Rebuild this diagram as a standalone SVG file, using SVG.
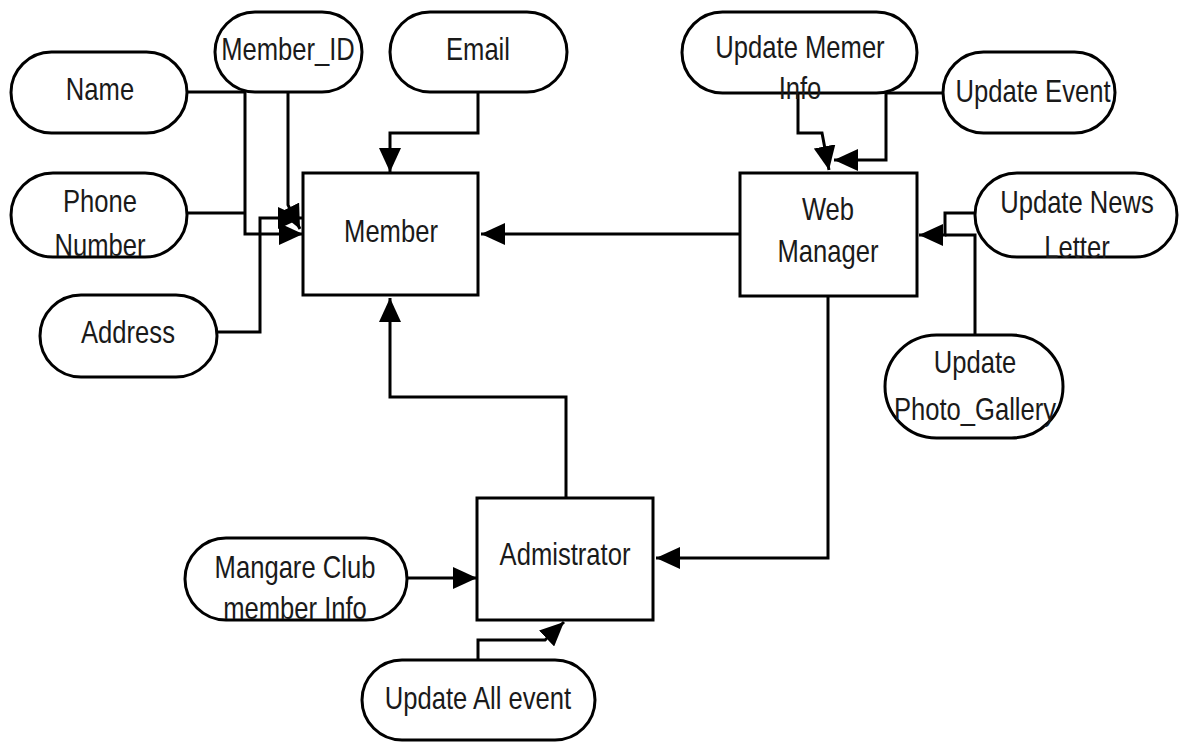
<svg xmlns="http://www.w3.org/2000/svg" width="1179" height="742" viewBox="0 0 1179 742">
<defs>
<style>
.pill{fill:#fff;stroke:#000;stroke-width:3}
.box{fill:#fff;stroke:#000;stroke-width:3}
.t{font-family:"Liberation Sans",Arial,sans-serif;font-size:32px;fill:#1a1a1a;text-anchor:middle}
.c{fill:none;stroke:#000;stroke-width:3}
.a{marker-end:url(#ah)}
</style>
<marker id="ah" markerUnits="userSpaceOnUse" markerWidth="26" markerHeight="22" refX="24" refY="11" orient="auto">
<path d="M0,0 L24,11 L0,22 z" fill="#000"/>
</marker>
</defs>
<rect width="1179" height="742" fill="#fff"/>
<g id="connectors">
<path class="c" d="M187,92 H245"/>
<path class="c" d="M187,213 H245"/>
<path class="c a" d="M245,92 V234 H303"/>
<path class="c a" d="M288,92 V205 L300,229"/>
<path class="c a" d="M217,332 H260 V218 H302"/>
<path class="c a" d="M478,92 V133 H390 V172"/>
<path class="c a" d="M740,234 H481"/>
<path class="c a" d="M798,93 V133 H822 L829,170"/>
<path class="c a" d="M943,93 H886 V160 H834"/>
<path class="c a" d="M975,213 H945 V235 H919"/>
<path class="c" d="M975,335 V235 H945"/>
<path class="c a" d="M828,296 V558 H656"/>
<path class="c a" d="M566,498 V397 H390 V298"/>
<path class="c a" d="M407,578 H477"/>
<path class="c a" d="M478,660 V640 H545 L564,622"/>
</g>
<g id="name"><rect class="pill" x="11" y="52" width="176" height="81" rx="40.5"/><text class="t" transform="translate(100,100) scale(0.8,1)">Name</text></g>
<g id="member_id"><rect class="pill" x="215" y="12" width="147" height="80" rx="40"/><text class="t" transform="translate(288,60) scale(0.8,1)">Member_ID</text></g>
<g id="email"><rect class="pill" x="390" y="12" width="177" height="80" rx="40"/><text class="t" transform="translate(478,60) scale(0.8,1)">Email</text></g>
<g id="phone"><rect class="pill" x="11" y="173" width="176" height="84" rx="42"/><text class="t" transform="translate(100,212) scale(0.8,1)">Phone</text><text class="t" transform="translate(100,256) scale(0.8,1)">Number</text></g>
<g id="address"><rect class="pill" x="40" y="295" width="177" height="82" rx="41"/><text class="t" transform="translate(128,343) scale(0.8,1)">Address</text></g>
<g id="member"><rect class="box" x="303" y="173" width="175" height="122"/><text class="t" transform="translate(391,242) scale(0.8,1)">Member</text></g>
<g id="web_manager"><rect class="box" x="740" y="173" width="177" height="123"/><text class="t" transform="translate(828,220) scale(0.8,1)">Web</text><text class="t" transform="translate(828,262) scale(0.8,1)">Manager</text></g>
<g id="update_member_info"><rect class="pill" x="682" y="12" width="235" height="81" rx="40.5"/><text class="t" transform="translate(800,58) scale(0.8,1)">Update Memer</text><text class="t" transform="translate(800,99) scale(0.8,1)">Info</text></g>
<g id="update_event"><rect class="pill" x="943" y="52" width="172" height="81" rx="40.5"/><text class="t" transform="translate(1033,102) scale(0.8,1)">Update Event</text></g>
<g id="update_news"><rect class="pill" x="975" y="173" width="202" height="84" rx="42"/><text class="t" transform="translate(1077,213) scale(0.8,1)">Update News</text><text class="t" transform="translate(1077,258) scale(0.8,1)">Letter</text></g>
<g id="update_photo"><rect class="pill" x="885" y="335" width="178" height="103" rx="51.5"/><text class="t" transform="translate(975,373) scale(0.8,1)">Update</text><text class="t" transform="translate(975,420) scale(0.8,1)">Photo_Gallery</text></g>
<g id="administrator"><rect class="box" x="477" y="498" width="176" height="122"/><text class="t" transform="translate(565,565) scale(0.8,1)">Admistrator</text></g>
<g id="manage_club"><rect class="pill" x="185" y="538" width="222" height="82" rx="41"/><text class="t" transform="translate(295,578) scale(0.8,1)">Mangare Club</text><text class="t" transform="translate(295,619) scale(0.8,1)">member Info</text></g>
<g id="update_all_event"><rect class="pill" x="362" y="660" width="233" height="80" rx="40"/><text class="t" transform="translate(478,709) scale(0.8,1)">Update All event</text></g>
</svg>
